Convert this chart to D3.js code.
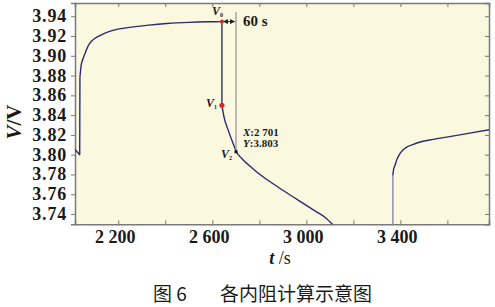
<!DOCTYPE html>
<html>
<head>
<meta charset="utf-8">
<script src="https://cdn.jsdelivr.net/npm/d3@7/dist/d3.min.js"></script>
<style>
  body { margin: 0; background: #fff; }
  svg text { font-family: "Liberation Serif", "DejaVu Serif", serif; font-weight: bold; fill: #1a1a1a; }
  .cap { font-family: "Noto Sans CJK SC", sans-serif; font-weight: normal; }
</style>
</head>
<body>
<svg id="svg" width="495" height="307"></svg>
<script>
// 数据 (t / s, V / V)
var chargeT = [2016, 2036, 2037, 2042, 2050, 2058, 2068, 2080, 2100, 2122, 2160, 2200, 2263, 2330, 2407, 2500, 2580, 2641];
var chargeV = [3.8054, 3.8000, 3.8780, 3.8900, 3.8970, 3.9020, 3.9080, 3.9130, 3.9175, 3.9205, 3.9245, 3.9270, 3.9292, 3.9310, 3.9326, 3.9338, 3.9344, 3.9346];
var dropT = [2641, 2641, 2650, 2668, 2689, 2702, 2720, 2739, 2765, 2796, 2830, 2867, 2900, 2938, 2970, 3008, 3045, 3079, 3112];
var dropV = [3.9346, 3.8500, 3.8380, 3.8246, 3.8110, 3.8030, 3.7975, 3.7929, 3.7875, 3.7812, 3.7752, 3.7693, 3.7640, 3.7582, 3.7533, 3.7474, 3.7420, 3.7367, 3.7293];
var restT = [3368, 3368, 3371, 3377, 3385, 3398, 3412, 3427, 3450, 3484, 3540, 3597, 3683, 3778];
var restV = [3.7290, 3.7790, 3.7850, 3.7890, 3.7950, 3.8010, 3.8050, 3.8077, 3.8100, 3.8128, 3.8155, 3.8178, 3.8213, 3.8253];
var xTicks = [2200, 2600, 3000, 3400];
var xTickLabels = ["2 200", "2 600", "3 000", "3 400"];
var xMinor = [2200, 2400, 2600, 2800, 3000, 3200, 3400, 3600];
var yTicks = [3.74, 3.76, 3.78, 3.80, 3.82, 3.84, 3.86, 3.88, 3.90, 3.92, 3.94];
var pV0 = [2641, 3.9346], pV1 = [2641, 3.850], pV2 = [2701, 3.803];

var svg = d3.select("#svg");
var L = 75, R = 489, T = 3, B = 224.3;
var x = d3.scaleLinear().domain([2016, 3777]).range([L, R]);
var y = d3.scaleLinear().domain([3.7296, 3.9534]).range([B, T]);

svg.append("rect").attr("x", L).attr("y", T).attr("width", R - L).attr("height", B - T).attr("fill", "#faf8df");
svg.append("clipPath").attr("id", "clip").append("rect").attr("x", L).attr("y", T).attr("width", R - L).attr("height", B - T);

// 坐标轴
var ax = "#7a7a7a";
svg.append("g").attr("transform", "translate(0," + B + ")")
  .call(d3.axisBottom(x).tickValues(xMinor).tickSize(-4).tickFormat(""));
svg.append("g").attr("transform", "translate(0," + T + ")")
  .call(d3.axisTop(x).tickValues(xMinor).tickSize(-4).tickFormat(""));
svg.append("g").attr("transform", "translate(" + L + ",0)")
  .call(d3.axisLeft(y).tickValues(yTicks).tickSize(4).tickFormat(""));
svg.append("g").attr("transform", "translate(" + R + ",0)")
  .call(d3.axisRight(y).tickValues(yTicks).tickSize(-4).tickFormat(""));
svg.selectAll(".domain").attr("stroke", ax).attr("stroke-width", 1.5);
svg.selectAll(".tick line").attr("stroke", ax).attr("stroke-width", 1);

svg.append("g").selectAll("text").data(xTicks).enter().append("text")
  .attr("x", function(d) { return x(d) - 3; }).attr("y", 243)
  .attr("text-anchor", "middle").attr("font-size", 18)
  .text(function(d, i) { return xTickLabels[i]; });
svg.append("g").selectAll("text").data(yTicks).enter().append("text")
  .attr("x", 67).attr("y", function(d) { return y(d) + 6; })
  .attr("text-anchor", "end").attr("font-size", 18).attr("letter-spacing", 0.8)
  .text(function(d) { return d.toFixed(2); });

var xt = svg.append("text").attr("x", 280).attr("y", 264).attr("text-anchor", "middle").attr("font-size", 18);
xt.append("tspan").attr("font-style", "italic").text("t");
xt.append("tspan").attr("font-weight", "normal").text(" /s");
var yt = svg.append("text").attr("transform", "translate(21,122) rotate(-90)").attr("text-anchor", "middle").attr("font-size", 21);
yt.append("tspan").attr("font-style", "italic").text("V");
yt.append("tspan").text("/V");

// 曲线: 跳变段用直线, 平滑段用 monotoneX
var jump = d3.line().x(function(d) { return x(d[0]); }).y(function(d) { return y(d[1]); });
var smooth = d3.line().curve(d3.curveMonotoneX).x(function(d) { return x(d[0]); }).y(function(d) { return y(d[1]); });
var pg = svg.append("g").attr("clip-path", "url(#clip)");
var chargePts = d3.zip(chargeT, chargeV), dropPts = d3.zip(dropT, dropV), restPts = d3.zip(restT, restV);
var ink = "#2e2b6c";
function draw(pts, gen, col) {
  pg.append("path").datum(pts).attr("d", gen).attr("fill", "none")
    .attr("stroke", col).attr("stroke-width", 1.4).attr("stroke-linejoin", "round");
}
draw(chargePts.slice(0, 3), jump, ink);
draw(chargePts.slice(2), smooth, ink);
draw(dropPts.slice(0, 2), jump, ink);
draw(dropPts.slice(1), smooth, ink);
draw(restPts.slice(0, 2), jump, "#8c89b4");
draw(restPts.slice(1), smooth, ink);

// 标注
pg.append("line").attr("x1", x(pV2[0])).attr("x2", x(pV2[0])).attr("y1", 12).attr("y2", y(pV2[1]))
  .attr("stroke", "#9a9a9a").attr("stroke-width", 1.3);
var ay = y(pV0[1]);
svg.append("defs").append("marker").attr("id", "ar").attr("viewBox", "0 0 6 6").attr("refX", 6).attr("refY", 3)
  .attr("markerWidth", 5).attr("markerHeight", 5).attr("orient", "auto-start-reverse")
  .append("path").attr("d", "M0,0L6,3L0,6Z").attr("fill", "#222");
svg.append("line").attr("x1", x(pV0[0]) + 1).attr("x2", x(pV2[0]) - 1).attr("y1", ay).attr("y2", ay)
  .attr("stroke", "#222").attr("stroke-width", 1).attr("marker-start", "url(#ar)").attr("marker-end", "url(#ar)");
svg.append("circle").attr("cx", x(pV0[0])).attr("cy", y(pV0[1])).attr("r", 2).attr("fill", "#d8262b");
svg.append("circle").attr("cx", x(pV1[0])).attr("cy", y(pV1[1])).attr("r", 2.6).attr("fill", "#d8262b");
svg.append("rect").attr("x", x(pV2[0]) - 1.5).attr("y", y(pV2[1]) - 1.5).attr("width", 3).attr("height", 3).attr("fill", "#111");

function vlab(px, py, sub) {
  var t = svg.append("text").attr("x", px).attr("y", py).attr("font-size", 12);
  t.append("tspan").attr("font-style", "italic").text("V");
  t.append("tspan").attr("font-size", 6).attr("dy", 2).text(sub);
}
vlab(x(pV0[0]) - 10, 15, "0");
vlab(x(pV1[0]) - 16, 107, "1");
vlab(x(pV2[0]) - 15, 158, "2");
svg.append("text").attr("x", 243).attr("y", 26).attr("font-size", 15).text("60 s");
svg.append("text").attr("x", 243).attr("y", 136).attr("font-size", 11)
  .html('<tspan font-style="italic">X</tspan>:2 701');
svg.append("text").attr("x", 243).attr("y", 147).attr("font-size", 11)
  .html('<tspan font-style="italic">Y</tspan>:3.803');

// 图题
svg.append("text").attr("class", "cap").attr("x", 153).attr("y", 301).attr("font-size", 19).text("图 6");
svg.append("text").attr("class", "cap").attr("x", 220).attr("y", 301).attr("font-size", 19).text("各内阻计算示意图");
</script>
</body>
</html>
